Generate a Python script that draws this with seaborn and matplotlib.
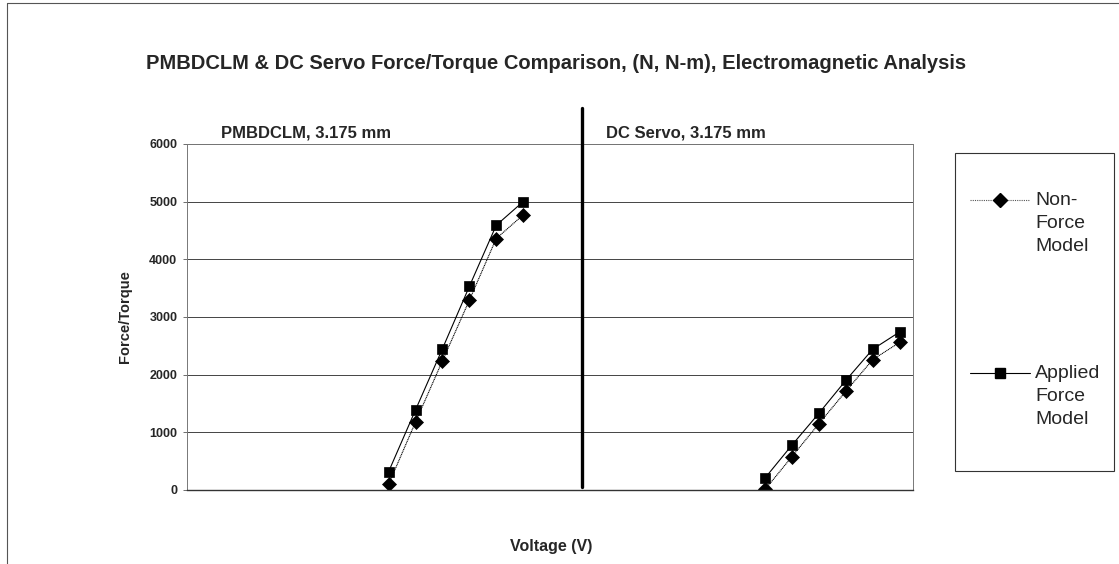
import numpy as np
import pandas as pd
import matplotlib
matplotlib.use("Agg")
import matplotlib.pyplot as plt
import seaborn as sns
from matplotlib.lines import Line2D
from matplotlib.patches import Rectangle

# ---- data ----
title = "PMBDCLM & DC Servo Force/Torque Comparison, (N, N-m), Electromagnetic Analysis"
panel_titles = ["PMBDCLM, 3.175 mm", "DC Servo, 3.175 mm"]
series_names = ["Non-Force Model", "Applied Force Model"]
legend_labels = ["Non-\nForce\nModel", "Applied\nForce\nModel"]
n_categories = 27
pm_categories = [8, 9, 10, 11, 12, 13]
dc_categories = [22, 23, 24, 25, 26, 27]
pm_nonforce = [100, 1180, 2240, 3290, 4360, 4770]
pm_applied = [320, 1390, 2450, 3530, 4590, 5000]
dc_nonforce = [10, 580, 1150, 1710, 2260, 2560]
dc_applied = [210, 780, 1330, 1900, 2440, 2740]
y_ticks = [0, 1000, 2000, 3000, 4000, 5000, 6000]
divider_category = 15.2

rows = []
for grp, cats, nf, ap in [("PMBDCLM", pm_categories, pm_nonforce, pm_applied),
                          ("DC Servo", dc_categories, dc_nonforce, dc_applied)]:
    for c, v in zip(cats, nf):
        rows.append(dict(category=c, value=v, series=series_names[0], group=grp))
    for c, v in zip(cats, ap):
        rows.append(dict(category=c, value=v, series=series_names[1], group=grp))
df = pd.DataFrame(rows)

# ---- figure ----
sns.set_theme(style="white")
plt.rcParams["font.family"] = ["Liberation Sans", "DejaVu Sans"]

W, H = 1119, 564
fig = plt.figure(figsize=(W / 100, H / 100), dpi=100)
fig.patch.set_facecolor("white")

def fx(px):
    return px / W

def fy(py):
    return 1 - py / H

ax_l, ax_r, ax_t, ax_b = 187, 913, 144, 490
ax = fig.add_axes([fx(ax_l), fy(ax_b), (ax_r - ax_l) / W, (ax_b - ax_t) / H])

sns.lineplot(data=df, x="category", y="value", style="series", units="group",
             estimator=None, markers={series_names[0]: "D", series_names[1]: "s"},
             dashes={series_names[0]: (1.0, 0.6), series_names[1]: ""},
             color="black", linewidth=0.8, markersize=7,
             markeredgecolor="black", markeredgewidth=0.5,
             legend=False, ax=ax, sort=False)

ax.set_xlim(0.5, n_categories + 0.5)
ax.set_ylim(0, 6000)
ax.set_yticks(y_ticks)
ax.set_yticklabels([str(t) for t in y_ticks], fontsize=9, fontweight="bold")
ax.set_xticks([])
ax.tick_params(axis="y", length=3, width=0.6, color="#555555", pad=4, left=True)
for t in y_ticks[1:]:
    ax.axhline(t, color="#444444", linewidth=0.7, zorder=0)
for side in ["top", "right", "left"]:
    ax.spines[side].set_color("#777777")
    ax.spines[side].set_linewidth(0.7)
ax.spines["bottom"].set_color("#333333")
ax.spines["bottom"].set_linewidth(1.0)
ax.set_xlabel("")
ax.set_ylabel("Force/Torque", fontsize=10.5, fontweight="bold", labelpad=12)

# divider line between the two panels
ax.plot([divider_category, divider_category], [6620, 50], color="black",
        linewidth=2.4, clip_on=False, zorder=5)

# texts
fig.text(fx(556), fy(64), title, ha="center", va="center", fontsize=14.5, fontweight="bold")
fig.text(fx(306), fy(133), panel_titles[0], ha="center", va="center", fontsize=12, fontweight="bold")
fig.text(fx(686), fy(133), panel_titles[1], ha="center", va="center", fontsize=12, fontweight="bold")
fig.text(fx(551), fy(546), "Voltage (V)", ha="center", va="center", fontsize=11.5, fontweight="bold")

# legend box
fig.add_artist(Rectangle((fx(955), fy(471)), (1114 - 955) / W, (471 - 153) / H,
                         transform=fig.transFigure, facecolor="white",
                         edgecolor="#333333", linewidth=0.8))
leg_y = [200, 373]
styles = [dict(ls=(0, (1, 1)), marker="D", color="#555555"),
          dict(ls="-", marker="s", color="black")]
for yy, lab, st in zip(leg_y, legend_labels, styles):
    fig.add_artist(Line2D([fx(970), fx(1030)], [fy(yy), fy(yy)], transform=fig.transFigure,
                          color=st["color"], linestyle=st["ls"], linewidth=0.8))
    fig.add_artist(Line2D([fx(1000)], [fy(yy)], transform=fig.transFigure,
                          marker=st["marker"], markersize=7, color="black", linestyle="none"))
    fig.text(fx(1035), fy(yy - 8), lab, ha="left", va="top", fontsize=14,
             linespacing=1.45, transform=fig.transFigure)

# chart-area border lines (left and top)
fig.add_artist(Line2D([fx(7), fx(7)], [fy(3), fy(564)], transform=fig.transFigure,
                      color="#555555", linewidth=0.8))
fig.add_artist(Line2D([fx(7), fx(1119)], [fy(3), fy(3)], transform=fig.transFigure,
                      color="#555555", linewidth=0.8))

fig.savefig("out.png", dpi=100, facecolor="white")
